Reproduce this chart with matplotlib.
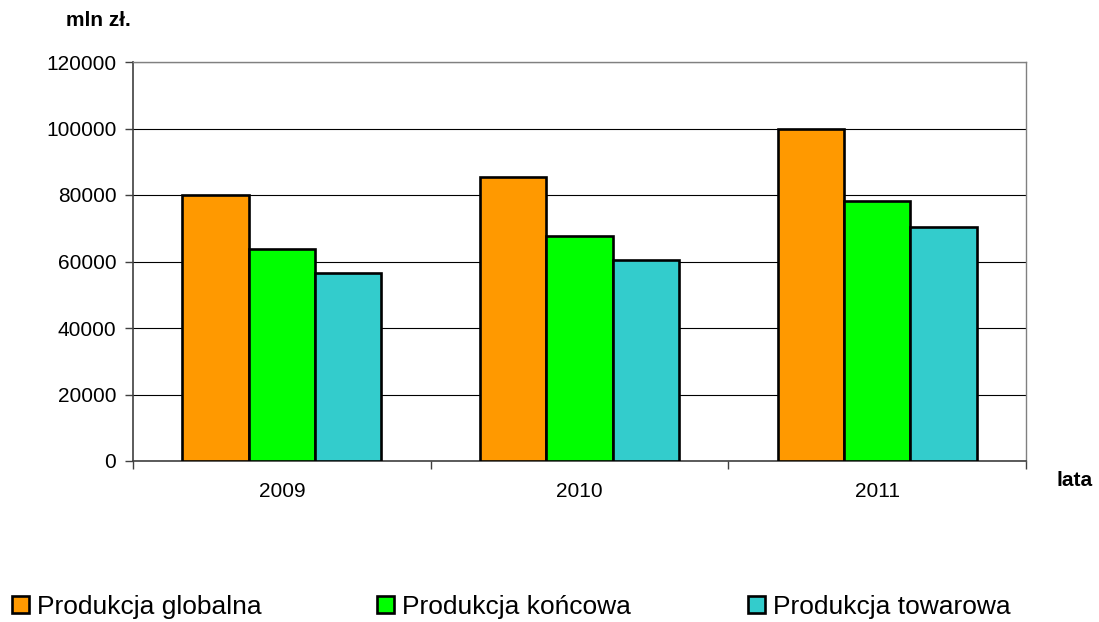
import matplotlib
matplotlib.use("Agg")
import matplotlib.pyplot as plt
import numpy as np
from matplotlib.ticker import FixedLocator

years = ["2009", "2010", "2011"]
series_names = ["Produkcja globalna", "Produkcja końcowa", "Produkcja towarowa"]
globalna = [79900, 85500, 99700]
koncowa = [63800, 67600, 78100]
towarowa = [56500, 60500, 70300]
colors = ["#FF9900", "#00FF00", "#33CCCC"]
yticks = [0, 20000, 40000, 60000, 80000, 100000, 120000]

plt.rcParams['font.family'] = ['Liberation Sans', 'DejaVu Sans']

fig = plt.figure(figsize=(10.99, 6.22), dpi=100)
ax = fig.add_axes([133/1099, 1-461/622, (1026-133)/1099, (461-62)/622])

x = np.arange(len(years))
w = 0.223
bars = []
for i, (vals, c, name) in enumerate(zip([globalna, koncowa, towarowa], colors, series_names)):
    b = ax.bar(x + (i-1)*w, vals, width=w, color=c, edgecolor='black', linewidth=1.9,
               label=name, zorder=3)
    bars.append(b)

ax.set_xlim(-0.5, 2.5)
ax.set_ylim(0, 120000)
ax.set_yticks(yticks)
ax.set_yticklabels([str(v) for v in yticks])
ax.yaxis.grid(True, color='black', linewidth=0.8, zorder=0)
ax.set_axisbelow(True)

ax.set_xticks(x)
ax.set_xticklabels(years)
ax.xaxis.set_minor_locator(FixedLocator([-0.5, 0.5, 1.5, 2.5]))
ax.tick_params(axis='x', which='major', length=0, pad=15, labelsize=15)
ax.tick_params(axis='x', which='minor', length=6, width=1, color='#404040', direction='out')
ax.tick_params(axis='y', which='major', length=6, width=1, color='#404040', pad=6, labelsize=15, direction='out')

for s in ['left', 'bottom']:
    ax.spines[s].set_color('#404040')
    ax.spines[s].set_linewidth(1.2)
for s in ['top', 'right']:
    ax.spines[s].set_color('#808080')
    ax.spines[s].set_linewidth(1.0)

fig.text(98/1099, 1-20/622, "mln zł.", fontsize=15, fontweight='bold', ha='center', va='center')
fig.text(1075/1099, 1-481/622, "lata", fontsize=15, fontweight='bold', ha='center', va='center')

xpos = [12, 377, 748]
for b, name, xp in zip(bars, series_names, xpos):
    leg = fig.legend([b], [name], loc='center left', bbox_to_anchor=(xp/1099, 1-607/622),
                     frameon=False, fontsize=19, handlelength=0.64, handleheight=0.64,
                     handletextpad=0.3, borderpad=0, borderaxespad=0)

fig.savefig("out.png", dpi=100)
